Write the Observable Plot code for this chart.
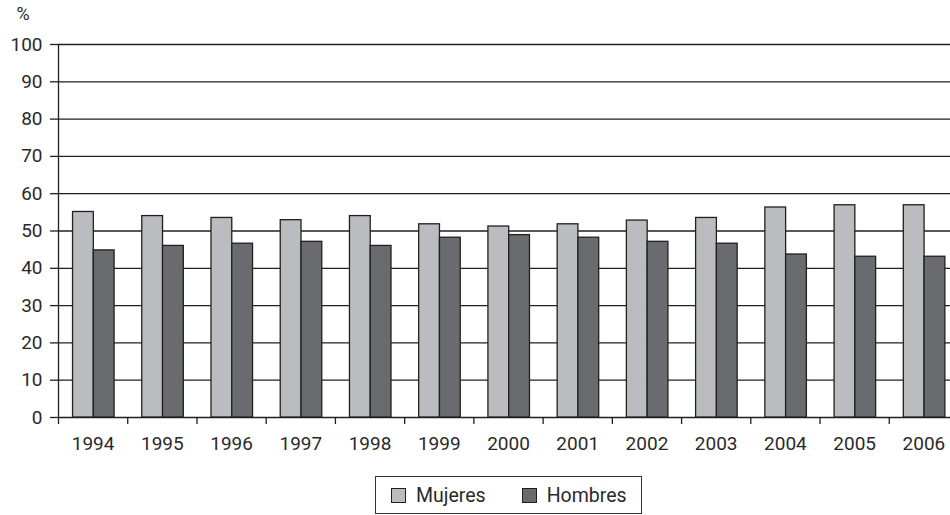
<!DOCTYPE html>
<html>
<head>
<meta charset="utf-8">
<script src="https://cdn.jsdelivr.net/npm/d3@7"></script>
<script src="https://cdn.jsdelivr.net/npm/@observablehq/plot@0.6"></script>
<style>
  html, body { margin: 0; padding: 0; background: #fff; overflow: hidden; }
  #wrap { position: relative; width: 950px; height: 515px; overflow: hidden; font-family: Roboto, "Liberation Sans", sans-serif; color: #2a2a2a; }
  #chart svg { max-width: none !important; width: 960px; height: 461px; }
  #legend { position: absolute; left: 375px; top: 476px; width: 250px; height: 36px; border: 1.5px solid #333; display: flex; align-items: center; padding-left: 15px; box-sizing: content-box; font-size: 19.5px; }
  .item { display: flex; align-items: center; }
  .sw { width: 13px; height: 13px; border: 1.3px solid #231f20; margin-right: 10px; }
</style>
</head>
<body>
<div id="wrap"><div id="chart"></div><div id="legend"></div></div>
<script>
const years = [1994, 1995, 1996, 1997, 1998, 1999, 2000, 2001, 2002, 2003, 2004, 2005, 2006];
const mujeres = [55.1, 54.0, 53.5, 52.9, 54.0, 51.8, 51.2, 51.8, 52.8, 53.5, 56.3, 56.9, 56.9];
const hombres = [44.8, 46.0, 46.6, 47.1, 46.0, 48.2, 48.9, 48.2, 47.1, 46.6, 43.7, 43.1, 43.1];
const series = ["Mujeres", "Hombres"];
const colors = ["#bbbcc0", "#6a6b6f"];
const yTicks = [0, 10, 20, 30, 40, 50, 60, 70, 80, 90, 100];
const yLabel = "%";

const rows = [];
years.forEach((y, i) => {
  rows.push({year: y, serie: "Mujeres", value: mujeres[i], x1: y - 0.29, x2: y + 0.01});
  rows.push({year: y, serie: "Hombres", value: hombres[i], x1: y + 0.01, x2: y + 0.31});
});
const bounds = [years[0] - 0.5, ...years.slice(1).map(y => y - 0.5)];

const ink = "#231f20";
const txt = "#2a2a2a";
const chart = Plot.plot({
  width: 960,
  height: 461,
  marginTop: 44,
  marginBottom: 44,
  marginLeft: 58,
  marginRight: 2,
  style: {fontFamily: "Roboto, 'Liberation Sans', sans-serif", fontSize: "19px", color: txt, background: "transparent"},
  x: {type: "linear", domain: [years[0] - 0.5, years[years.length - 1] + 0.5]},
  y: {domain: [0, 100]},
  color: {domain: series, range: colors},
  marks: [
    Plot.ruleY(yTicks, {stroke: ink, strokeWidth: 1.3}),
    Plot.axisY({ticks: yTicks, tickSize: 8, tickPadding: 8, stroke: ink, strokeWidth: 1.3, fontSize: 19, fill: txt, label: null}),
    Plot.rectY(rows, {x1: "x1", x2: "x2", y: "value", fill: "serie", stroke: ink, strokeWidth: 1.3}),
    Plot.ruleX([years[0] - 0.5], {y1: 0, y2: 100, stroke: ink, strokeWidth: 1.3}),
    Plot.axisX({ticks: bounds, tickSize: 7, tickFormat: () => "", stroke: ink, strokeWidth: 1.3, label: null}),
    Plot.axisX({ticks: years, tickSize: 0, tickPadding: 19, tickFormat: d => String(d), fontSize: 19, fill: txt, label: null}),
    Plot.text([yLabel], {frameAnchor: "top-left", dx: -42, dy: -37, text: d => d, fill: txt, fontSize: 18})
  ]
});
document.getElementById("chart").appendChild(chart);

const legend = document.getElementById("legend");
series.forEach((s, i) => {
  const it = document.createElement("div");
  it.className = "item";
  if (i > 0) it.style.marginLeft = "36px";
  const sw = document.createElement("div");
  sw.className = "sw";
  sw.style.background = colors[i];
  const t = document.createElement("span");
  t.textContent = s;
  it.appendChild(sw);
  it.appendChild(t);
  legend.appendChild(it);
});
</script>
</body>
</html>
